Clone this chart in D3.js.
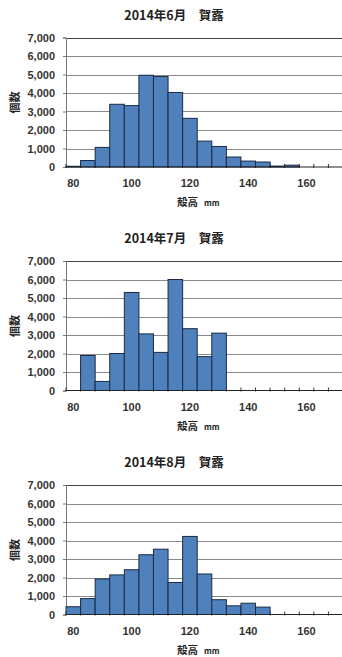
<!DOCTYPE html>
<html>
<head>
<meta charset="utf-8">
<script src="https://cdn.jsdelivr.net/npm/d3@7"></script>
<style>
  html, body { margin: 0; padding: 0; background: #fff; }
  svg { display: block; }
</style>
</head>
<body>
<svg id="chart" width="342" height="657"></svg>
<script>
// Shell height classes (mm), one bar per 5 mm class
const sizeClasses = [80, 85, 90, 95, 100, 105, 110, 115, 120, 125, 130, 135, 140, 145, 150, 155, 160, 165, 170];
const labelledClasses = [80, 100, 120, 140, 160];
const countTicks = [0, 1000, 2000, 3000, 4000, 5000, 6000, 7000];

// Counts per class for each survey month
const countsJune   = [40, 350, 1060, 3390, 3320, 4960, 4890, 4030, 2630, 1400, 1110, 540, 320, 270, 50, 100, 0, 0, 0];
const countsJuly   = [0, 1890, 490, 2000, 5300, 3060, 2060, 6000, 3340, 1830, 3100, 0, 0, 0, 0, 0, 0, 0, 0];
const countsAugust = [420, 860, 1920, 2140, 2420, 3230, 3530, 1730, 4220, 2190, 800, 470, 610, 400, 0, 0, 0, 0, 0];

const panelTitles = ["2014年6月　賀露", "2014年7月　賀露", "2014年8月　賀露"];
const panelCounts = [countsJune, countsJuly, countsAugust];
const panelTops = [37.5, 261, 485];

const svg = d3.select("#chart");
const plotLeft = 66, plotRight = 343, plotHeight = 129.5;
const numFont = "'Liberation Sans', Arial, sans-serif";
const cjkFont = "'Noto Sans CJK JP', 'Noto Sans CJK SC', sans-serif";

const x = d3.scaleBand().domain(sizeClasses).range([plotLeft, plotRight]).padding(0);

panelCounts.forEach((counts, i) => {
  const top = panelTops[i];
  const g = svg.append("g");
  const y = d3.scaleLinear().domain([0, 7000]).range([top + plotHeight, top]);
  const base = y(0);

  // Title
  g.append("text")
    .attr("x", 174).attr("y", top - 18)
    .attr("text-anchor", "middle")
    .attr("font-family", cjkFont).attr("font-weight", "bold")
    .attr("font-size", 12.5).attr("fill", "#222")
    .text(panelTitles[i]);

  // Horizontal gridlines
  g.selectAll("line.grid").data(countTicks.filter(t => t > 0)).join("line")
    .attr("x1", plotLeft).attr("x2", plotRight + 5)
    .attr("y1", d => Math.round(y(d)) + 0.5).attr("y2", d => Math.round(y(d)) + 0.5)
    .attr("stroke", d => d === 7000 ? "#444" : "#8a8a8a").attr("stroke-width", 1);

  // Value axis
  const yAxis = d3.axisLeft(y).tickValues(countTicks).tickSize(3).tickPadding(8)
    .tickFormat(d3.format(","));
  const ya = g.append("g").attr("transform", `translate(${plotLeft},0)`).call(yAxis);
  ya.select(".domain").attr("stroke", "#777");
  ya.selectAll(".tick line").attr("stroke", "#777");
  ya.selectAll("text").attr("font-family", numFont).attr("font-weight", "bold")
    .attr("font-size", 11).attr("fill", "#333");

  // Category tick marks on the baseline, between classes
  const edges = sizeClasses.map(c => x(c)).concat([plotRight]);
  g.selectAll("line.ctick").data(edges).join("line")
    .attr("x1", d => d).attr("x2", d => d)
    .attr("y1", base - 3).attr("y2", base + 1)
    .attr("stroke", "#333").attr("stroke-width", 1);

  // Bars
  g.selectAll("rect.bar").data(sizeClasses.map((c, k) => ({ c, v: counts[k] })).filter(d => d.v > 0))
    .join("rect")
    .attr("x", d => x(d.c)).attr("width", x.bandwidth())
    .attr("y", d => y(d.v)).attr("height", d => base - y(d.v))
    .attr("fill", "#4f81bd").attr("stroke", "#1b2a45").attr("stroke-width", 1);

  // Baseline
  g.append("line")
    .attr("x1", plotLeft).attr("x2", plotRight + 5)
    .attr("y1", base).attr("y2", base)
    .attr("stroke", "#222").attr("stroke-width", 1.2);

  // Category labels
  g.selectAll("text.xl").data(labelledClasses).join("text")
    .attr("x", d => x(d) + x.bandwidth() / 2).attr("y", base + 20)
    .attr("text-anchor", "middle")
    .attr("font-family", numFont).attr("font-weight", "bold")
    .attr("font-size", 11).attr("fill", "#333")
    .text(d => d);

  // Axis titles
  const xt = g.append("text").attr("x", 177).attr("y", base + 39)
    .attr("font-family", cjkFont).attr("font-weight", "bold").attr("fill", "#222");
  xt.append("tspan").attr("font-size", 10.5).text("殻高");
  xt.append("tspan").attr("dx", 6).attr("font-size", 8).text("mm");

  g.append("text")
    .attr("transform", `translate(19,${top + 65}) rotate(-90)`)
    .attr("text-anchor", "middle")
    .attr("font-family", cjkFont).attr("font-weight", "bold")
    .attr("font-size", 11).attr("fill", "#222")
    .text("個数");
});
</script>
</body>
</html>
